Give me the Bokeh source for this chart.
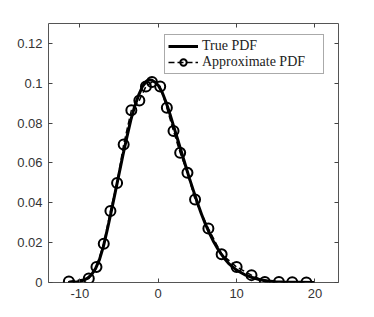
from bokeh.plotting import figure
from bokeh.models import LinearAxis, FixedTicker, Legend, LegendItem, Range1d
from bokeh.embed import file_html
from bokeh.resources import INLINE

# True PDF curve
true_x = [-11.5, -10.5, -10, -9.5, -9, -8.5, -8, -7.5, -7, -6.5, -6, -5.5, -5, -4.5, -4, -3.5, -3,
          -2.5, -2, -1.5, -1.2, -0.8, -0.4, 0, 0.5, 1, 1.5, 2, 2.5, 3, 3.5, 4, 4.5, 5, 5.5, 6, 6.5,
          7, 7.5, 8, 8.5, 9, 10, 11, 12, 13, 14, 15, 16, 18, 20]
true_y = [0.0, 0.0002, 0.0006, 0.0012, 0.0022, 0.0040, 0.0070, 0.0115, 0.0180, 0.0265, 0.0355,
          0.0450, 0.0545, 0.0640, 0.0730, 0.0815, 0.0885, 0.0940, 0.0985, 0.1010, 0.1018, 0.1015,
          0.1005, 0.0990, 0.0955, 0.0905, 0.0845, 0.0780, 0.0715, 0.0650, 0.0585, 0.0520, 0.0460,
          0.0400, 0.0345, 0.0295, 0.0250, 0.0210, 0.0175, 0.0145, 0.0118, 0.0095, 0.0062, 0.0040,
          0.0025, 0.0014, 0.0008, 0.0004, 0.0002, 0.0001, 0.0]

# Approximate PDF points
approx_x = [-11.4, -8.86, -7.88, -6.95, -6.1, -5.25, -4.41, -3.43, -2.41, -1.57, -0.8, 0.25, 1.1,
            1.95, 2.8, 3.73, 4.7, 6.4, 8.09, 10.0, 11.9, 13.6, 15.4, 17.1, 18.9]
approx_y = [0.0005, 0.002, 0.0078, 0.0195, 0.0359, 0.0499, 0.0693, 0.0864, 0.0914, 0.0984, 0.1006,
            0.0984, 0.0877, 0.076, 0.0651, 0.0551, 0.0417, 0.0271, 0.0142, 0.0078, 0.0037, 0.0003,
            0.0002, 0.0001, 0.0]

x_ticks = [-10, 0, 10, 20]
x_tick_labels = {-10: "-10", 0: "0", 10: "10", 20: "20"}
y_ticks = [0, 0.02, 0.04, 0.06, 0.08, 0.1, 0.12]
y_tick_labels = {0: "0", 0.02: "0.02", 0.04: "0.04", 0.06: "0.06", 0.08: "0.08", 0.1: "0.1", 0.12: "0.12"}

p = figure(width=366, height=309, output_backend="svg", toolbar_location=None,
           x_range=Range1d(-14, 23), y_range=Range1d(0, 0.13),
           x_axis_location=None, y_axis_location=None,
           min_border_left=48, min_border_right=28, min_border_top=23, min_border_bottom=27)
p.grid.visible = False
p.outline_line_color = "#555555"
p.outline_line_width = 1
p.background_fill_color = "white"
p.border_fill_color = "white"

axcol = "#444444"
def mk_axis(ticks, show_labels, overrides=None):
    ax = LinearAxis(ticker=FixedTicker(ticks=ticks))
    ax.major_tick_in = 4
    ax.major_tick_out = 0
    ax.minor_tick_in = 0
    ax.minor_tick_out = 0
    ax.axis_line_color = None
    ax.major_tick_line_color = axcol
    ax.major_label_text_font = "Liberation Sans"
    ax.major_label_text_font_size = "13px"
    ax.major_label_text_color = "#333333"
    ax.major_label_standoff = 6
    if overrides:
        ax.major_label_overrides = overrides
    if not show_labels:
        ax.major_label_overrides = {t: "" for t in ticks}
        ax.major_label_standoff = 0
    return ax

p.add_layout(mk_axis(x_ticks, True, x_tick_labels), "below")
p.add_layout(mk_axis(y_ticks, True, y_tick_labels), "left")
p.add_layout(mk_axis(x_ticks, False), "above")
p.add_layout(mk_axis(y_ticks, False), "right")

r_true = p.line(true_x, true_y, line_color="black", line_width=3)
r_appr_line = p.line(approx_x, approx_y, line_color="black", line_width=1.5, line_dash="6 3")
r_appr_pts = p.scatter(approx_x, approx_y, marker="circle", size=10, fill_color=None,
                       line_color="black", line_width=2)

legend = Legend(items=[LegendItem(label="True PDF", renderers=[r_true]),
                       LegendItem(label="Approximate PDF", renderers=[r_appr_line, r_appr_pts])],
                location=(116, 208))
legend.label_text_font = "Liberation Serif"
legend.label_text_font_size = "14px"
legend.label_text_color = "#222222"
legend.border_line_color = "#555555"
legend.border_line_width = 1
legend.background_fill_color = "white"
legend.background_fill_alpha = 1
legend.padding = 3
legend.spacing = 0
legend.margin = 0
legend.glyph_width = 30
legend.glyph_height = 16
legend.label_height = 16
legend.label_width = 118
legend.label_standoff = 4
p.add_layout(legend, "center")

open("out.html", "w").write(file_html(p, INLINE))
